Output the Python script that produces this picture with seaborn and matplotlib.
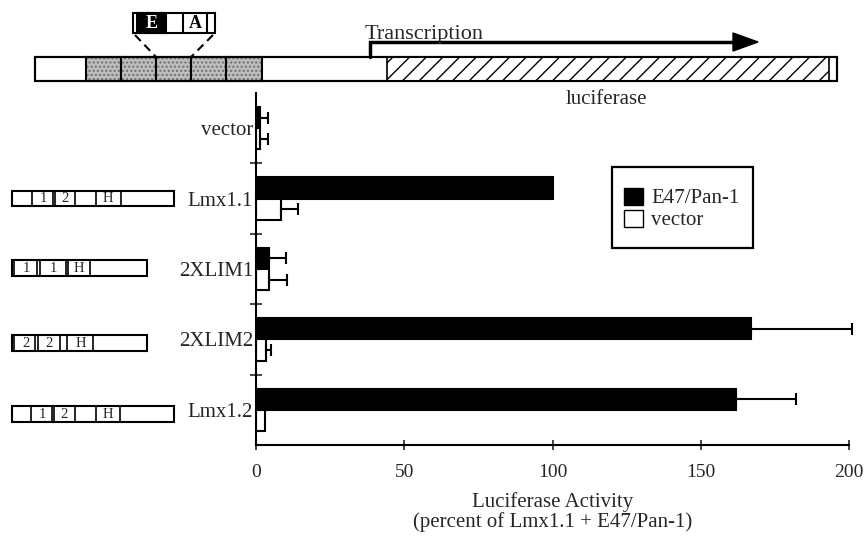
import numpy as np
import pandas as pd
import matplotlib
matplotlib.use("Agg")
import matplotlib.pyplot as plt
from matplotlib.patches import Rectangle, Polygon, Patch
import seaborn as sns

# === Data ===
constructs = ["vector", "Lmx1.1", "2XLIM1", "2XLIM2", "Lmx1.2"]
conditions = ["E47/Pan-1", "vector"]
e47_activity = [1.5, 100, 4.5, 167, 162]
e47_err = [2.5, 0, 5.5, 34, 20]
vec_activity = [1.5, 8.3, 4.5, 3.4, 3.2]
vec_err = [2.5, 6, 6, 1.5, 0]
x_ticks = [0, 50, 100, 150, 200]

df = pd.DataFrame({
    "construct": constructs * 2,
    "condition": [conditions[0]] * 5 + [conditions[1]] * 5,
    "activity": e47_activity + vec_activity,
})
errs = {conditions[0]: e47_err, conditions[1]: vec_err}
palette = {conditions[0]: "black", conditions[1]: "white"}

sns.set_style("ticks")
plt.rcParams["font.family"] = ["Liberation Serif", "DejaVu Serif"]
plt.rcParams["hatch.linewidth"] = 1.0

fig = plt.figure(figsize=(8.64, 5.37), dpi=100)
W, H = 864, 537
ax = fig.add_axes([256 / W, 1 - 445 / H, 593 / W, 352 / H])

sns.barplot(data=df, y="construct", x="activity", hue="condition",
            order=constructs, hue_order=conditions, palette=palette,
            orient="h", width=0.6, edgecolor="black", linewidth=1.5,
            errorbar=None, legend=False, ax=ax)

# error bars, one side only, from the bars seaborn drew
for cond, cont in zip(conditions, ax.containers):
    for bar, err in zip(cont, errs[cond]):
        if err <= 0:
            continue
        yc = bar.get_y() + bar.get_height() / 2
        eb = ax.errorbar(bar.get_width(), yc, xerr=[[0], [err]], fmt="none",
                         ecolor="black", elinewidth=1.5, capsize=4.5, capthick=1.5)
        for art in eb.lines[1] + eb.lines[2]:
            art.set_clip_on(False)

ax.set_xlim(0, 200)
ax.set_ylim(4.5, -0.5)
ax.set_xticks(x_ticks)
ax.set_xticklabels([str(t) for t in x_ticks], fontsize=14)
ax.set_yticks(range(len(constructs)))
ax.set_yticklabels(constructs, fontsize=15)
ax.set_yticks([0.5, 1.5, 2.5, 3.5], minor=True)
ax.tick_params(axis="y", which="major", length=0, pad=2)
ax.tick_params(axis="y", which="minor", direction="inout", length=8, width=1.2)
ax.tick_params(axis="x", direction="inout", length=7, width=1.2, pad=10)
ax.set_xlabel("Luciferase Activity\n(percent of Lmx1.1 + E47/Pan-1)",
              fontsize=15, labelpad=8, linespacing=1.05)
ax.set_ylabel("")
for s in ["top", "right"]:
    ax.spines[s].set_visible(False)
for s in ["left", "bottom"]:
    ax.spines[s].set_linewidth(1.5)
    ax.spines[s].set_color("black")

handles = [Patch(facecolor=palette[c], edgecolor="black", label=c) for c in conditions]
ax.legend(handles=handles, loc="center",
          bbox_to_anchor=(682 / W, 1 - 209 / H), bbox_transform=fig.transFigure,
          frameon=False, fontsize=15, borderpad=0, handlelength=0.9,
          handleheight=0.9, handletextpad=0.4, labelspacing=0.05)

# === Overlay for the construct diagrams (pixel coordinates) ===
deco = fig.add_axes([0, 0, 1, 1])
deco.set_xlim(0, W)
deco.set_ylim(H, 0)
deco.axis("off")
deco.patch.set_alpha(0)


def box(x0, x1, y0, y1, **kw):
    kw.setdefault("facecolor", "white")
    kw.setdefault("edgecolor", "black")
    kw.setdefault("linewidth", 1.5)
    deco.add_patch(Rectangle((x0, y0), x1 - x0, y1 - y0, **kw))


# legend frame
box(612, 753, 167, 248, facecolor="none", linewidth=1.6)

# promoter / luciferase reporter
y0, y1 = 57, 81
box(35, 837, y0, y1)
stip = [86, 121, 156, 191, 226, 262]
for a, b in zip(stip[:-1], stip[1:]):
    box(a, b, y0, y1, facecolor="#bdbdbd", edgecolor="#6e6e6e", hatch="....", linewidth=0)
    box(a, b, y0, y1, facecolor="none")
box(387, 829, y0, y1, hatch="//", linewidth=1.2)
box(35, 837, y0, y1, facecolor="none")

# E / A inset
box(133, 215, 13, 33)
box(137, 166, 13, 33, facecolor="black")
for xd in [183, 207]:
    deco.plot([xd, xd], [13, 33], color="black", lw=1.5)
deco.text(151.5, 23.5, "E", color="white", fontsize=13, fontweight="bold", ha="center", va="center")
deco.text(195, 23.5, "A", color="black", fontsize=13, fontweight="bold", ha="center", va="center")
deco.plot([135, 156], [35, 57], color="black", lw=1.5, ls=(0, (4, 2.5)))
deco.plot([213, 191], [35, 57], color="black", lw=1.5, ls=(0, (4, 2.5)))

# transcription arrow
deco.plot([370, 370, 736], [57, 42, 42], color="black", lw=2.5, solid_joinstyle="miter")
deco.add_patch(Polygon([[733, 33], [758, 42], [733, 51]], closed=True, color="black"))
deco.text(365, 39, "Transcription", fontsize=16, ha="left", va="baseline")
deco.text(606, 99, "luciferase", fontsize=15, ha="center", va="center")

# protein domain schematics next to the constructs
schemes = [
    (191, 206, 174, [32, 53, 55, 75, 96, 121], [("1", 43), ("2", 65), ("H", 108)]),
    (260, 276, 147, [14, 37, 40, 66, 68, 90], [("1", 26), ("1", 53), ("H", 79)]),
    (335, 351, 147, [14, 35, 38, 60, 67, 93], [("2", 26), ("2", 49), ("H", 81)]),
    (406, 422, 174, [31, 52, 54, 75, 96, 120], [("1", 42), ("2", 64), ("H", 108)]),
]
for ya, yb, xe, divs, labs in schemes:
    box(12, xe, ya, yb)
    for xd in divs:
        deco.plot([xd, xd], [ya, yb], color="black", lw=1.2)
    for t, xt in labs:
        deco.text(xt, (ya + yb) / 2 + 0.5, t, fontsize=10.5, ha="center", va="center")

fig.savefig("out.png", dpi=100)
